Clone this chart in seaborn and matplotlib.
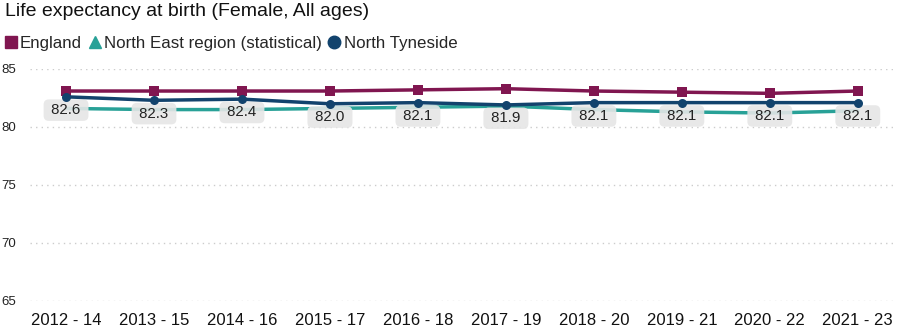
import pandas as pd
import matplotlib.pyplot as plt
import seaborn as sns
from matplotlib.lines import Line2D

# values
periods = ["2012 - 14", "2013 - 15", "2014 - 16", "2015 - 17", "2016 - 18",
           "2017 - 19", "2018 - 20", "2019 - 21", "2020 - 22", "2021 - 23"]
england = [83.1, 83.1, 83.1, 83.1, 83.2, 83.3, 83.1, 83.0, 82.9, 83.1]
north_east = [81.6, 81.5, 81.5, 81.6, 81.7, 81.8, 81.5, 81.3, 81.2, 81.4]
north_tyneside = [82.6, 82.3, 82.4, 82.0, 82.1, 81.9, 82.1, 82.1, 82.1, 82.1]

series = ["England", "North East region (statistical)", "North Tyneside"]
colors = {"England": "#801650",
          "North East region (statistical)": "#28A197",
          "North Tyneside": "#12436D"}
markers = {"England": "s",
           "North East region (statistical)": "^",
           "North Tyneside": "o"}

df = pd.DataFrame({
    "period": periods * 3,
    "idx": list(range(len(periods))) * 3,
    "area": [series[0]] * 10 + [series[1]] * 10 + [series[2]] * 10,
    "value": england + north_east + north_tyneside,
})

sns.set_style("white")
plt.rcParams["font.family"] = ["Liberation Sans", "DejaVu Sans"]

fig = plt.figure(figsize=(9.03, 3.36), dpi=100)
ax = fig.add_axes([0.0332, 0.1042, 0.9557, 0.6905])

for name in series:
    sub = df[df["area"] == name]
    ms = 0 if name == series[1] else 6.5
    sns.lineplot(data=sub, x="idx", y="value", ax=ax, color=colors[name],
                 marker=markers[name], markersize=ms, linewidth=2.5,
                 markeredgewidth=0, legend=False, clip_on=False,
                 zorder=5 if name != series[1] else 2)

# data labels for North Tyneside
for i, v in enumerate(north_tyneside):
    ax.annotate(f" {v:.1f} ", (i, v), xytext=(0, -9.6), textcoords="offset points",
                ha="center", va="center", fontsize=10.8, color="#222222",
                bbox=dict(boxstyle="round,pad=0.25,rounding_size=0.35",
                          fc="#e6e6e6", ec="none", alpha=0.9),
                zorder=4)

ax.set_xlim(-0.41, 9.4)
ax.set_ylim(65, 85)
ax.set_yticks([65, 70, 75, 80, 85])
ax.set_xticks(range(len(periods)))
ax.set_xticklabels(periods)
ax.grid(axis="y", color="#cccccc", linestyle=(0, (1, 3)), linewidth=1)
ax.grid(axis="x", visible=False)
sns.despine(ax=ax, left=True, bottom=True)
ax.tick_params(axis="x", labelsize=12, length=0, pad=9, colors="#111111")
ax.tick_params(axis="y", labelsize=9.5, length=0, pad=10, colors="#222222")
ax.set_xlabel("")
ax.set_ylabel("")

fig.text(0.006, 0.965, "Life expectancy at birth (Female, All ages)",
         fontsize=14, color="#111111", va="center", ha="left")

handles = [Line2D([], [], color=colors[n], marker=markers[n], linestyle="none",
                  markersize=9 if n != series[0] else 8) for n in series]
fig.legend(handles, series, loc="center left", bbox_to_anchor=(-0.008, 0.872),
           ncol=3, frameon=False, fontsize=12.2, handletextpad=-0.1,
           columnspacing=0.1, handlelength=1.3, borderaxespad=0)

fig.savefig("out.png", dpi=100)
